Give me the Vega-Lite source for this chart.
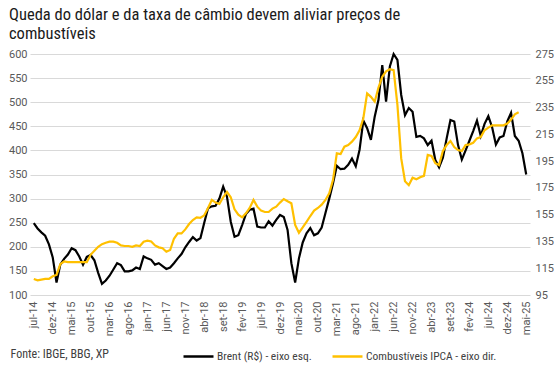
{
  "$schema": "https://vega.github.io/schema/vega-lite/v6.json",
  "width": 500,
  "height": 241,
  "autosize": {"type": "none"},
  "padding": {"left": 30, "top": 54, "right": 30, "bottom": 71},
  "background": "white",
  "title": {
    "text": ["Queda do dólar e da taxa de câmbio devem aliviar preços de", "combustíveis"],
    "anchor": "start",
    "frame": "group",
    "dx": -21,
    "offset": 6,
    "font": "Liberation Sans Narrow, Roboto Condensed, Roboto",
    "fontSize": 16.5,
    "fontWeight": "normal",
    "color": "#1a1a1a",
    "lineHeight": 19
  },
  "data": {
    "values": [
      {"mes": "jul-14", "brent": 249, "ipca": 107},
      {"mes": "ago-14", "brent": 238, "ipca": 106},
      {"mes": "set-14", "brent": 230, "ipca": 106.5},
      {"mes": "out-14", "brent": 223, "ipca": 107},
      {"mes": "nov-14", "brent": 205, "ipca": 107},
      {"mes": "dez-14", "brent": 178, "ipca": 109},
      {"mes": "jan-15", "brent": 126, "ipca": 110},
      {"mes": "fev-15", "brent": 163, "ipca": 118},
      {"mes": "mar-15", "brent": 175, "ipca": 120},
      {"mes": "abr-15", "brent": 184, "ipca": 119.5},
      {"mes": "mai-15", "brent": 197, "ipca": 119.5},
      {"mes": "jun-15", "brent": 193, "ipca": 119.5},
      {"mes": "jul-15", "brent": 180, "ipca": 119.5},
      {"mes": "ago-15", "brent": 163, "ipca": 119.5},
      {"mes": "set-15", "brent": 179, "ipca": 119.5},
      {"mes": "out-15", "brent": 183, "ipca": 125},
      {"mes": "nov-15", "brent": 172, "ipca": 128},
      {"mes": "dez-15", "brent": 146, "ipca": 131},
      {"mes": "jan-16", "brent": 123, "ipca": 133},
      {"mes": "fev-16", "brent": 130, "ipca": 134},
      {"mes": "mar-16", "brent": 140, "ipca": 134.8},
      {"mes": "abr-16", "brent": 153, "ipca": 134.8},
      {"mes": "mai-16", "brent": 166, "ipca": 134},
      {"mes": "jun-16", "brent": 162, "ipca": 132},
      {"mes": "jul-16", "brent": 149, "ipca": 131.6},
      {"mes": "ago-16", "brent": 149, "ipca": 131.6},
      {"mes": "set-16", "brent": 151, "ipca": 131},
      {"mes": "out-16", "brent": 157, "ipca": 132},
      {"mes": "nov-16", "brent": 154, "ipca": 131.6},
      {"mes": "dez-16", "brent": 180, "ipca": 134.8},
      {"mes": "jan-17", "brent": 176, "ipca": 135.6},
      {"mes": "fev-17", "brent": 173, "ipca": 135},
      {"mes": "mar-17", "brent": 163, "ipca": 132},
      {"mes": "abr-17", "brent": 166, "ipca": 130.6},
      {"mes": "mai-17", "brent": 160, "ipca": 130},
      {"mes": "jun-17", "brent": 154, "ipca": 127.3},
      {"mes": "jul-17", "brent": 157, "ipca": 128.6},
      {"mes": "ago-17", "brent": 166, "ipca": 137},
      {"mes": "set-17", "brent": 176, "ipca": 141},
      {"mes": "out-17", "brent": 185, "ipca": 141},
      {"mes": "nov-17", "brent": 199, "ipca": 144},
      {"mes": "dez-17", "brent": 210, "ipca": 148},
      {"mes": "jan-18", "brent": 220, "ipca": 151},
      {"mes": "fev-18", "brent": 213, "ipca": 153},
      {"mes": "mar-18", "brent": 218, "ipca": 152.7},
      {"mes": "abr-18", "brent": 250, "ipca": 154.5},
      {"mes": "mai-18", "brent": 280, "ipca": 160},
      {"mes": "jun-18", "brent": 284, "ipca": 166},
      {"mes": "jul-18", "brent": 285, "ipca": 164},
      {"mes": "ago-18", "brent": 300, "ipca": 163},
      {"mes": "set-18", "brent": 325, "ipca": 168},
      {"mes": "out-18", "brent": 304, "ipca": 172},
      {"mes": "nov-18", "brent": 252, "ipca": 168},
      {"mes": "dez-18", "brent": 221, "ipca": 159},
      {"mes": "jan-19", "brent": 224, "ipca": 155},
      {"mes": "fev-19", "brent": 245, "ipca": 153},
      {"mes": "mar-19", "brent": 268, "ipca": 156},
      {"mes": "abr-19", "brent": 277, "ipca": 160},
      {"mes": "mai-19", "brent": 279, "ipca": 166},
      {"mes": "jun-19", "brent": 242, "ipca": 161},
      {"mes": "jul-19", "brent": 240, "ipca": 158},
      {"mes": "ago-19", "brent": 240, "ipca": 157},
      {"mes": "set-19", "brent": 253, "ipca": 157},
      {"mes": "out-19", "brent": 244, "ipca": 159.5},
      {"mes": "nov-19", "brent": 256, "ipca": 161},
      {"mes": "dez-19", "brent": 266, "ipca": 164},
      {"mes": "jan-20", "brent": 262, "ipca": 166.7},
      {"mes": "fev-20", "brent": 235, "ipca": 165},
      {"mes": "mar-20", "brent": 166, "ipca": 163.5},
      {"mes": "abr-20", "brent": 126, "ipca": 147.3},
      {"mes": "mai-20", "brent": 176, "ipca": 141.5},
      {"mes": "jun-20", "brent": 209, "ipca": 145.5},
      {"mes": "jul-20", "brent": 228, "ipca": 149.7},
      {"mes": "ago-20", "brent": 239, "ipca": 154},
      {"mes": "set-20", "brent": 224, "ipca": 158},
      {"mes": "out-20", "brent": 228, "ipca": 160},
      {"mes": "nov-20", "brent": 240, "ipca": 162.5},
      {"mes": "dez-20", "brent": 270, "ipca": 166},
      {"mes": "jan-21", "brent": 300, "ipca": 171},
      {"mes": "fev-21", "brent": 332, "ipca": 181},
      {"mes": "mar-21", "brent": 368, "ipca": 200.8},
      {"mes": "abr-21", "brent": 361, "ipca": 200.3},
      {"mes": "mai-21", "brent": 362, "ipca": 205.8},
      {"mes": "jun-21", "brent": 370, "ipca": 207},
      {"mes": "jul-21", "brent": 383, "ipca": 209.5},
      {"mes": "ago-21", "brent": 367, "ipca": 213},
      {"mes": "set-21", "brent": 401, "ipca": 218},
      {"mes": "out-21", "brent": 462, "ipca": 227},
      {"mes": "nov-21", "brent": 446, "ipca": 245.6},
      {"mes": "dez-21", "brent": 422, "ipca": 243},
      {"mes": "jan-22", "brent": 470, "ipca": 239.4},
      {"mes": "fev-22", "brent": 505, "ipca": 250},
      {"mes": "mar-22", "brent": 577, "ipca": 258},
      {"mes": "abr-22", "brent": 501, "ipca": 262},
      {"mes": "mai-22", "brent": 574, "ipca": 263.6},
      {"mes": "jun-22", "brent": 600, "ipca": 263},
      {"mes": "jul-22", "brent": 588, "ipca": 237},
      {"mes": "ago-22", "brent": 515, "ipca": 197},
      {"mes": "set-22", "brent": 473, "ipca": 180},
      {"mes": "out-22", "brent": 488, "ipca": 177},
      {"mes": "nov-22", "brent": 480, "ipca": 182.6},
      {"mes": "dez-22", "brent": 428, "ipca": 181.4},
      {"mes": "jan-23", "brent": 430, "ipca": 183},
      {"mes": "fev-23", "brent": 425, "ipca": 184},
      {"mes": "mar-23", "brent": 411, "ipca": 199.6},
      {"mes": "abr-23", "brent": 420, "ipca": 198.8},
      {"mes": "mai-23", "brent": 380, "ipca": 193.4},
      {"mes": "jun-23", "brent": 365, "ipca": 192},
      {"mes": "jul-23", "brent": 385, "ipca": 202.5},
      {"mes": "ago-23", "brent": 425, "ipca": 207},
      {"mes": "set-23", "brent": 463, "ipca": 210},
      {"mes": "out-23", "brent": 460, "ipca": 205.5},
      {"mes": "nov-23", "brent": 411, "ipca": 203.3},
      {"mes": "dez-23", "brent": 381, "ipca": 202.5},
      {"mes": "jan-24", "brent": 400, "ipca": 207},
      {"mes": "fev-24", "brent": 420, "ipca": 207.5},
      {"mes": "mar-24", "brent": 440, "ipca": 208.7},
      {"mes": "abr-24", "brent": 462, "ipca": 212},
      {"mes": "mai-24", "brent": 430, "ipca": 213},
      {"mes": "jun-24", "brent": 455, "ipca": 218},
      {"mes": "jul-24", "brent": 471, "ipca": 220},
      {"mes": "ago-24", "brent": 448, "ipca": 221.7},
      {"mes": "set-24", "brent": 412, "ipca": 221.7},
      {"mes": "out-24", "brent": 427, "ipca": 221.7},
      {"mes": "nov-24", "brent": 430, "ipca": 221.7},
      {"mes": "dez-24", "brent": 460, "ipca": 223},
      {"mes": "jan-25", "brent": 478, "ipca": 226},
      {"mes": "fev-25", "brent": 430, "ipca": 230},
      {"mes": "mar-25", "brent": 420, "ipca": 231.5},
      {"mes": "abr-25", "brent": 394, "ipca": null},
      {"mes": "mai-25", "brent": 350, "ipca": null}
    ]
  },
  "encoding": {
    "x": {
      "field": "mes",
      "type": "ordinal",
      "sort": null,
      "scale": {"type": "point", "padding": 1.6},
      "axis": {
        "values": ["jul-14", "dez-14", "mai-15", "out-15", "mar-16", "ago-16", "jan-17", "jun-17", "nov-17", "abr-18", "set-18", "fev-19", "jul-19", "dez-19", "mai-20", "out-20", "mar-21", "ago-21", "jan-22", "jun-22", "nov-22", "abr-23", "set-23", "fev-24", "jul-24", "dez-24", "mai-25"],
        "labelAngle": -90,
        "labelPadding": 6,
        "labelFontSize": 11,
        "labelColor": "#595959",
        "domain": false,
        "ticks": false,
        "grid": false,
        "title": "Fonte: IBGE, BBG, XP",
        "titleX": -20,
        "titleY": 62,
        "titleAlign": "left",
        "titleAnchor": "start",
        "titleBaseline": "alphabetic",
        "titleFontSize": 12,
        "titleFontWeight": "normal",
        "titleColor": "#404040",
        "titleFont": "Liberation Sans Narrow, Roboto Condensed, Roboto"
      }
    },
    "color": {
      "scale": {
        "domain": ["Brent (R$) - eixo esq.", "Combustíveis IPCA - eixo dir."],
        "range": ["#000000", "#FFC000"]
      },
      "legend": {
        "title": null,
        "orient": "none",
        "legendX": 152,
        "legendY": 286,
        "direction": "horizontal",
        "symbolType": "stroke",
        "symbolSize": 900,
        "symbolStrokeWidth": 2.5,
        "labelFontSize": 11.5,
        "labelColor": "#404040",
        "labelFont": "Liberation Sans Narrow, Roboto Condensed, Roboto",
        "labelOffset": 2,
        "labelLimit": 300,
        "columnPadding": 15
      }
    }
  },
  "layer": [
    {
      "mark": {"type": "line", "strokeWidth": 2.2},
      "encoding": {
        "y": {
          "field": "brent",
          "type": "quantitative",
          "scale": {"domain": [100, 600], "nice": false, "zero": false},
          "axis": {
            "orient": "left",
            "values": [100, 150, 200, 250, 300, 350, 400, 450, 500, 550, 600],
            "title": null,
            "domain": false,
            "ticks": false,
            "grid": true,
            "gridColor": "#D9D9D9",
            "gridWidth": 1,
            "labelFontSize": 11,
            "labelColor": "#595959",
            "labelPadding": 3
          }
        },
        "color": {"datum": "Brent (R$) - eixo esq."}
      }
    },
    {
      "mark": {"type": "line", "strokeWidth": 2.2},
      "encoding": {
        "y": {
          "field": "ipca",
          "type": "quantitative",
          "scale": {"domain": [95, 275], "nice": false, "zero": false},
          "axis": {
            "orient": "right",
            "values": [95, 115, 135, 155, 175, 195, 215, 235, 255, 275],
            "title": null,
            "domain": false,
            "ticks": false,
            "grid": false,
            "labelFontSize": 11,
            "labelColor": "#595959",
            "labelPadding": 5
          }
        },
        "color": {"datum": "Combustíveis IPCA - eixo dir."}
      }
    }
  ],
  "resolve": {"scale": {"y": "independent"}},
  "config": {
    "font": "Roboto",
    "view": {"stroke": null}
  }
}
